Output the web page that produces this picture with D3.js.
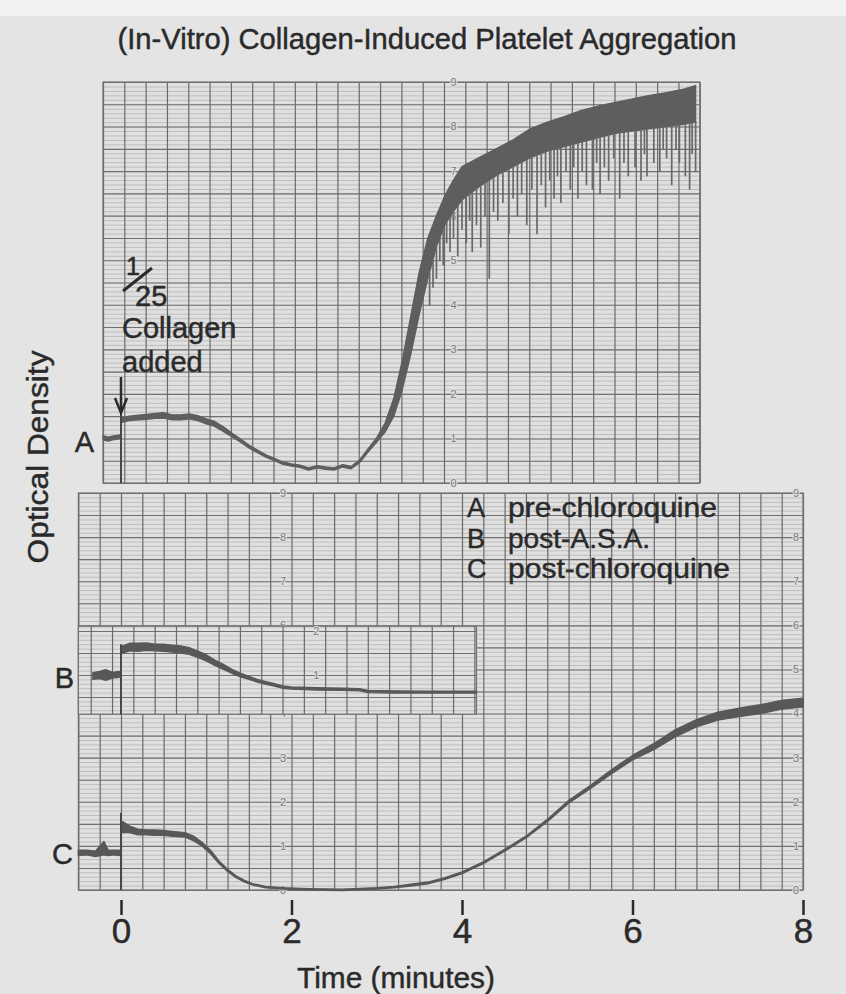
<!DOCTYPE html>
<html>
<head>
<meta charset="utf-8">
<script src="https://cdn.jsdelivr.net/npm/d3@7"></script>
<style>
body { margin: 0; background: #e4e4e4; }
svg text { font-family: "Liberation Sans", Arial, sans-serif; fill: #2a2a2a; }
svg text.ink { stroke: #2a2a2a; stroke-width: 0.45px; }
</style>
</head>
<body>
<div id="chart"></div>
<script>
const timeTicks = [0, 2, 4, 6, 8];
const paperLabels = d3.range(0, 10);
const stripBLabels = [1, 2];
const legendKeys = ["A", "B", "C"];
const legendNames = ["pre-chloroquine", "post-A.S.A.", "post-chloroquine"];

// [minutes, low, high] of the pen trace (the ink band)
const traceA = [
    [-0.21, 0.97, 1.06], [-0.15, 0.94, 1.03], [-0.10, 0.97, 1.05], [-0.05, 0.98, 1.07], [-0.01, 1.00, 1.08],
    [0.01, 1.36, 1.46], [0.1, 1.40, 1.50], [0.2, 1.42, 1.52], [0.3, 1.43, 1.54], [0.4, 1.45, 1.56],
    [0.5, 1.46, 1.58], [0.6, 1.42, 1.53], [0.7, 1.42, 1.53], [0.8, 1.44, 1.55], [0.9, 1.40, 1.51],
    [1.0, 1.33, 1.44], [1.1, 1.27, 1.38], [1.2, 1.16, 1.26], [1.3, 1.04, 1.12], [1.4, 0.92, 0.99],
    [1.5, 0.79, 0.85], [1.6, 0.68, 0.74], [1.7, 0.58, 0.63], [1.8, 0.50, 0.55], [1.9, 0.42, 0.47],
    [2.0, 0.38, 0.43], [2.1, 0.35, 0.40], [2.2, 0.29, 0.34], [2.3, 0.34, 0.39], [2.4, 0.31, 0.36],
    [2.5, 0.29, 0.34], [2.6, 0.36, 0.41], [2.7, 0.32, 0.37], [2.8, 0.46, 0.52], [2.9, 0.70, 0.77],
    [3.0, 0.92, 1.02], [3.1, 1.15, 1.35], [3.2, 1.50, 1.90], [3.3, 2.10, 2.75], [3.4, 2.90, 3.75],
    [3.5, 3.80, 4.75], [3.6, 4.60, 5.50], [3.7, 5.30, 6.00], [3.8, 5.80, 6.45], [3.9, 6.10, 6.80],
    [4.0, 6.35, 7.10], [4.2, 6.65, 7.30], [4.4, 6.90, 7.50], [4.6, 7.10, 7.70], [4.8, 7.30, 7.95],
    [5.0, 7.45, 8.10], [5.2, 7.55, 8.22], [5.4, 7.65, 8.36], [5.6, 7.75, 8.46], [5.8, 7.85, 8.54],
    [6.0, 7.90, 8.62], [6.2, 7.95, 8.70], [6.4, 8.00, 8.76], [6.6, 8.05, 8.84], [6.74, 8.10, 8.92]
];
// [minutes, lowest value] of the downward pen swings in trace A
const spikesA = [
    [3.62, 4.0], [3.66, 4.4], [3.70, 4.6], [3.74, 5.0], [3.78, 4.9], [3.82, 5.4], [3.86, 5.2],
    [3.90, 5.5], [3.95, 5.1], [4.00, 5.7], [4.05, 5.4], [4.09, 5.9], [4.12, 5.2], [4.17, 5.8],
    [4.22, 5.3], [4.27, 6.0], [4.32, 4.6], [4.37, 6.1], [4.42, 5.9], [4.48, 6.3], [4.55, 5.6],
    [4.60, 6.4], [4.65, 6.0], [4.70, 6.5], [4.76, 5.8], [4.82, 6.6], [4.88, 5.6], [4.93, 6.7],
    [4.98, 6.2], [5.03, 6.8], [5.08, 6.4], [5.12, 6.9], [5.16, 6.3], [5.22, 7.0], [5.27, 6.6],
    [5.31, 7.1], [5.36, 6.4], [5.41, 7.0], [5.46, 6.7], [5.53, 6.6], [5.58, 7.2], [5.62, 6.5],
    [5.67, 7.1], [5.72, 6.8], [5.78, 7.3], [5.85, 6.4], [5.90, 7.2], [5.95, 6.9], [6.03, 7.1],
    [6.10, 6.8], [6.14, 7.4], [6.17, 6.9], [6.25, 7.2], [6.32, 7.0], [6.36, 7.5], [6.40, 7.3],
    [6.46, 6.7], [6.51, 7.5], [6.55, 7.2], [6.62, 6.9], [6.67, 6.6], [6.70, 7.4], [6.74, 7.0]
];
const traceB = [
    [-0.33, 0.90, 1.05], [-0.25, 0.92, 1.08], [-0.18, 0.88, 1.12], [-0.10, 0.93, 1.06], [-0.02, 0.95, 1.08],
    [0.02, 1.50, 1.66], [0.1, 1.55, 1.72], [0.2, 1.54, 1.72], [0.3, 1.56, 1.73], [0.4, 1.55, 1.70],
    [0.5, 1.54, 1.70], [0.6, 1.52, 1.68], [0.7, 1.50, 1.66], [0.8, 1.47, 1.62], [0.9, 1.40, 1.54],
    [1.0, 1.32, 1.46], [1.1, 1.22, 1.34], [1.2, 1.13, 1.24], [1.3, 1.04, 1.13], [1.4, 0.96, 1.04],
    [1.5, 0.90, 0.97], [1.6, 0.84, 0.90], [1.7, 0.79, 0.85], [1.8, 0.75, 0.80], [1.9, 0.70, 0.75],
    [2.0, 0.68, 0.73], [2.3, 0.66, 0.71], [2.6, 0.65, 0.70], [2.8, 0.64, 0.69], [2.9, 0.60, 0.65],
    [3.2, 0.59, 0.64], [3.6, 0.59, 0.63], [4.17, 0.59, 0.63]
];
const traceC = [
    [-0.5, 0.78, 0.90], [-0.4, 0.80, 0.90], [-0.3, 0.76, 0.88], [-0.2, 0.80, 1.10], [-0.15, 0.78, 0.90],
    [-0.08, 0.80, 0.90], [-0.02, 0.78, 0.90],
    [0.02, 1.30, 1.55], [0.1, 1.30, 1.45], [0.2, 1.25, 1.38], [0.3, 1.25, 1.36], [0.4, 1.24, 1.36],
    [0.5, 1.24, 1.35], [0.6, 1.22, 1.33], [0.75, 1.20, 1.30], [0.85, 1.12, 1.22], [0.95, 1.00, 1.08],
    [1.05, 0.82, 0.90], [1.15, 0.60, 0.66], [1.25, 0.42, 0.47], [1.35, 0.28, 0.32], [1.45, 0.18, 0.22],
    [1.55, 0.11, 0.14], [1.7, 0.05, 0.08], [1.9, 0.02, 0.05], [2.2, 0.00, 0.03], [2.6, -0.01, 0.02],
    [3.0, 0.02, 0.05], [3.2, 0.05, 0.08], [3.4, 0.09, 0.13], [3.6, 0.14, 0.18], [3.8, 0.24, 0.28],
    [4.0, 0.37, 0.41], [4.25, 0.60, 0.64], [4.5, 0.88, 0.92], [4.75, 1.18, 1.22], [5.0, 1.55, 1.60],
    [5.25, 1.97, 2.03], [5.5, 2.29, 2.36], [5.75, 2.63, 2.72], [6.0, 2.95, 3.05], [6.25, 3.18, 3.32],
    [6.5, 3.47, 3.63], [6.75, 3.70, 3.86], [7.0, 3.85, 4.03], [7.25, 3.93, 4.12], [7.5, 4.00, 4.20],
    [7.75, 4.10, 4.30], [8.0, 4.15, 4.35]
];
// pen jump when collagen went in: [minutes, from, to]
const jumpA = [0, 0, 1.6];
const jumpB = [0, 0.1, 1.7];
const jumpC = [0, 0, 1.75];

const svg = d3.select("#chart").append("svg").attr("width", 846).attr("height", 994);
svg.append("rect").attr("width", 846).attr("height", 994).attr("fill", "#e4e4e4");
svg.append("rect").attr("width", 846).attr("height", 16).attr("fill", "#f2f2f2");

const x = d3.scaleLinear().domain([0, 8]).range([121, 803]);
const yA = d3.scaleLinear().domain([0, 9]).range([483, 82]);
const yL = d3.scaleLinear().domain([0, 9]).range([890, 493]);
const yB = d3.scaleLinear().domain([0, 2]).range([719, 631]);

function drawPaper(ys, t0, t1, gridT0, v0, v1) {
    const g = svg.append("g");
    const left = x(t0), right = x(t1), top = ys(v1), bottom = ys(v0);
    g.append("rect")
        .attr("x", left).attr("y", top)
        .attr("width", right - left).attr("height", bottom - top)
        .attr("fill", "#e0e0e0");

    const fine = d3.range(Math.ceil(v0 * 10 - 1e-6), Math.floor(v1 * 10 + 1e-6) + 1).map(i => i / 10);
    const half = fine.filter(v => Math.abs(v * 2 - Math.round(v * 2)) < 1e-6);

    g.append("g")
        .attr("transform", `translate(${left},0)`)
        .call(d3.axisRight(ys).tickValues(fine).tickSize(right - left).tickFormat(""))
        .call(s => s.select(".domain").remove())
        .call(s => s.selectAll("line").attr("stroke", "#a6a6a6").attr("stroke-width", 0.6));

    g.append("g")
        .attr("transform", `translate(${left},0)`)
        .call(d3.axisRight(ys).tickValues(half).tickSize(right - left).tickFormat(""))
        .call(s => s.select(".domain").remove())
        .call(s => s.selectAll("line").attr("stroke", "#707070").attr("stroke-width", 1.1));

    const k0 = Math.ceil((t0 - gridT0) / 0.25 - 1e-6), k1 = Math.floor((t1 - gridT0) / 0.25 + 1e-6);
    const verticals = d3.range(k0, k1 + 1).map(k => gridT0 + k * 0.25);
    g.append("g")
        .attr("transform", `translate(0,${top})`)
        .call(d3.axisBottom(x).tickValues(verticals).tickSize(bottom - top).tickFormat(""))
        .call(s => s.select(".domain").remove())
        .call(s => s.selectAll("line").attr("stroke", "#6a6a6a").attr("stroke-width", 1.2));

    g.append("rect")
        .attr("x", left).attr("y", top)
        .attr("width", right - left).attr("height", bottom - top)
        .attr("fill", "none").attr("stroke", "#707070").attr("stroke-width", 1.2);
    return g;
}

function paperNumbers(g, ys, t, values) {
    g.selectAll(null)
        .data(values)
        .join("text")
        .attr("x", x(t))
        .attr("y", d => ys(d))
        .attr("dy", "0.35em")
        .attr("text-anchor", "middle")
        .style("font-size", "11px")
        .style("fill", "#7a7a7a")
        .style("paint-order", "stroke")
        .style("stroke", "#e0e0e0")
        .style("stroke-width", "2px")
        .text(d => d);
}

const area = ys => d3.area().x(d => x(d[0])).y0(d => ys(d[1])).y1(d => ys(d[2]));

function drawTrace(data, ys, jump, colour) {
    const g = svg.append("g");
    const before = data.filter(d => d[0] < jump[0]);
    const after = data.filter(d => d[0] > jump[0]);
    [before, after].forEach(part => {
        g.append("path").datum(part)
            .attr("d", area(ys))
            .attr("fill", colour)
            .attr("stroke", colour)
            .attr("stroke-width", 1.4)
            .attr("stroke-linejoin", "round");
    });
    g.append("line")
        .attr("x1", x(jump[0])).attr("x2", x(jump[0]))
        .attr("y1", ys(jump[1])).attr("y2", ys(jump[2]))
        .attr("stroke", "#484848").attr("stroke-width", 2);
    return g;
}

// lower sheet (trace C sits on it), strip B pasted over it, sheet A above
const lower = drawPaper(yL, -0.5, 8, 0, 0, 9);
paperNumbers(lower, yL, 1.9, paperLabels);
paperNumbers(lower, yL, 7.92, paperLabels);

const paperA = drawPaper(yA, -0.211, 6.789, -0.211, 0, 9);
paperNumbers(paperA, yA, 3.9, paperLabels);

drawTrace(traceC, yL, jumpC, "#585858");

const stripB = drawPaper(yB, -0.5, 4.17, -0.105, 0.11, 2.11);
paperNumbers(stripB, yB, 2.29, stripBLabels);
drawTrace(traceB, yB, jumpB, "#585858");

const gA = drawTrace(traceA, yA, jumpA, "#5e5e5e");
const loA = d3.scaleLinear().domain(traceA.map(d => d[0])).range(traceA.map(d => d[1]));
gA.selectAll(".spike")
    .data(spikesA)
    .join("line")
    .attr("class", "spike")
    .attr("x1", d => x(d[0])).attr("x2", d => x(d[0]))
    .attr("y1", d => yA(loA(d[0]))).attr("y2", d => yA(d[1]))
    .attr("stroke", "#686868").attr("stroke-width", 1.7)
    .attr("stroke-linecap", "round");

// time axis
svg.append("g")
    .attr("transform", "translate(0,900)")
    .call(d3.axisBottom(x).tickValues(timeTicks).tickSize(15).tickPadding(3))
    .call(g => g.select(".domain").remove())
    .call(g => g.selectAll("line").attr("stroke", "#2a2a2a").attr("stroke-width", 2.5))
    .call(g => g.selectAll("text").attr("class", "ink").style("font-size", "35px").style("fill", "#2a2a2a")
        .style("font-family", "'Liberation Sans', Arial, sans-serif"));

svg.append("text")
    .attr("class", "ink")
    .attr("x", 396).attr("y", 988)
    .attr("text-anchor", "middle")
    .attr("textLength", 198).attr("lengthAdjust", "spacingAndGlyphs")
    .style("font-size", "30px")
    .text("Time (minutes)");

svg.append("text")
    .attr("class", "ink")
    .attr("transform", "translate(48,457) rotate(-90)")
    .attr("text-anchor", "middle")
    .attr("textLength", 213).attr("lengthAdjust", "spacingAndGlyphs")
    .style("font-size", "29px")
    .text("Optical Density");

svg.append("text")
    .attr("class", "ink")
    .attr("x", 427).attr("y", 49)
    .attr("text-anchor", "middle")
    .attr("textLength", 619).attr("lengthAdjust", "spacingAndGlyphs")
    .style("font-size", "29px")
    .text("(In-Vitro) Collagen-Induced Platelet Aggregation");

// trace letters at the left
const traceLetters = [["A", 94, 452], ["B", 74, 688], ["C", 73, 864]];
svg.selectAll(".trace-letter")
    .data(traceLetters)
    .join("text")
    .attr("class", "trace-letter ink")
    .attr("x", d => d[1]).attr("y", d => d[2])
    .attr("text-anchor", "end")
    .style("font-size", "29px")
    .text(d => d[0]);

// legend
const legend = svg.append("g").attr("transform", "translate(467,517)");
legend.selectAll(".key")
    .data(legendKeys)
    .join("text")
    .attr("class", "key ink")
    .attr("x", 0).attr("y", (_, i) => i * 30.5)
    .style("font-size", "27px")
    .text(d => d);
const nameWidths = [209, 142, 222];
legend.selectAll(".name")
    .data(legendNames)
    .join("text")
    .attr("class", "name ink")
    .attr("x", 41).attr("y", (_, i) => i * 30.5)
    .attr("textLength", (_, i) => nameWidths[i]).attr("lengthAdjust", "spacingAndGlyphs")
    .style("font-size", "27px")
    .text(d => d);

// collagen note and arrow
const note = svg.append("g");
note.append("text").attr("class", "ink").attr("x", 126).attr("y", 275).style("font-size", "25px").text("1");
note.append("line")
    .attr("x1", 123).attr("y1", 291).attr("x2", 152).attr("y2", 268)
    .attr("stroke", "#2a2a2a").attr("stroke-width", 3);
note.append("text").attr("class", "ink").attr("x", 135).attr("y", 306).style("font-size", "29px").text("25");
note.append("text").attr("class", "ink").attr("x", 122).attr("y", 338).style("font-size", "29px").text("Collagen");
note.append("text").attr("class", "ink").attr("x", 122).attr("y", 372).style("font-size", "29px").text("added");
note.append("line")
    .attr("x1", x(0)).attr("x2", x(0)).attr("y1", 377).attr("y2", 411)
    .attr("stroke", "#2a2a2a").attr("stroke-width", 2.5);
note.append("path")
    .attr("d", `M${x(0) - 6},398 L${x(0)},413 L${x(0) + 6},398`)
    .attr("fill", "none").attr("stroke", "#2a2a2a").attr("stroke-width", 2.5);
</script>
</body>
</html>
